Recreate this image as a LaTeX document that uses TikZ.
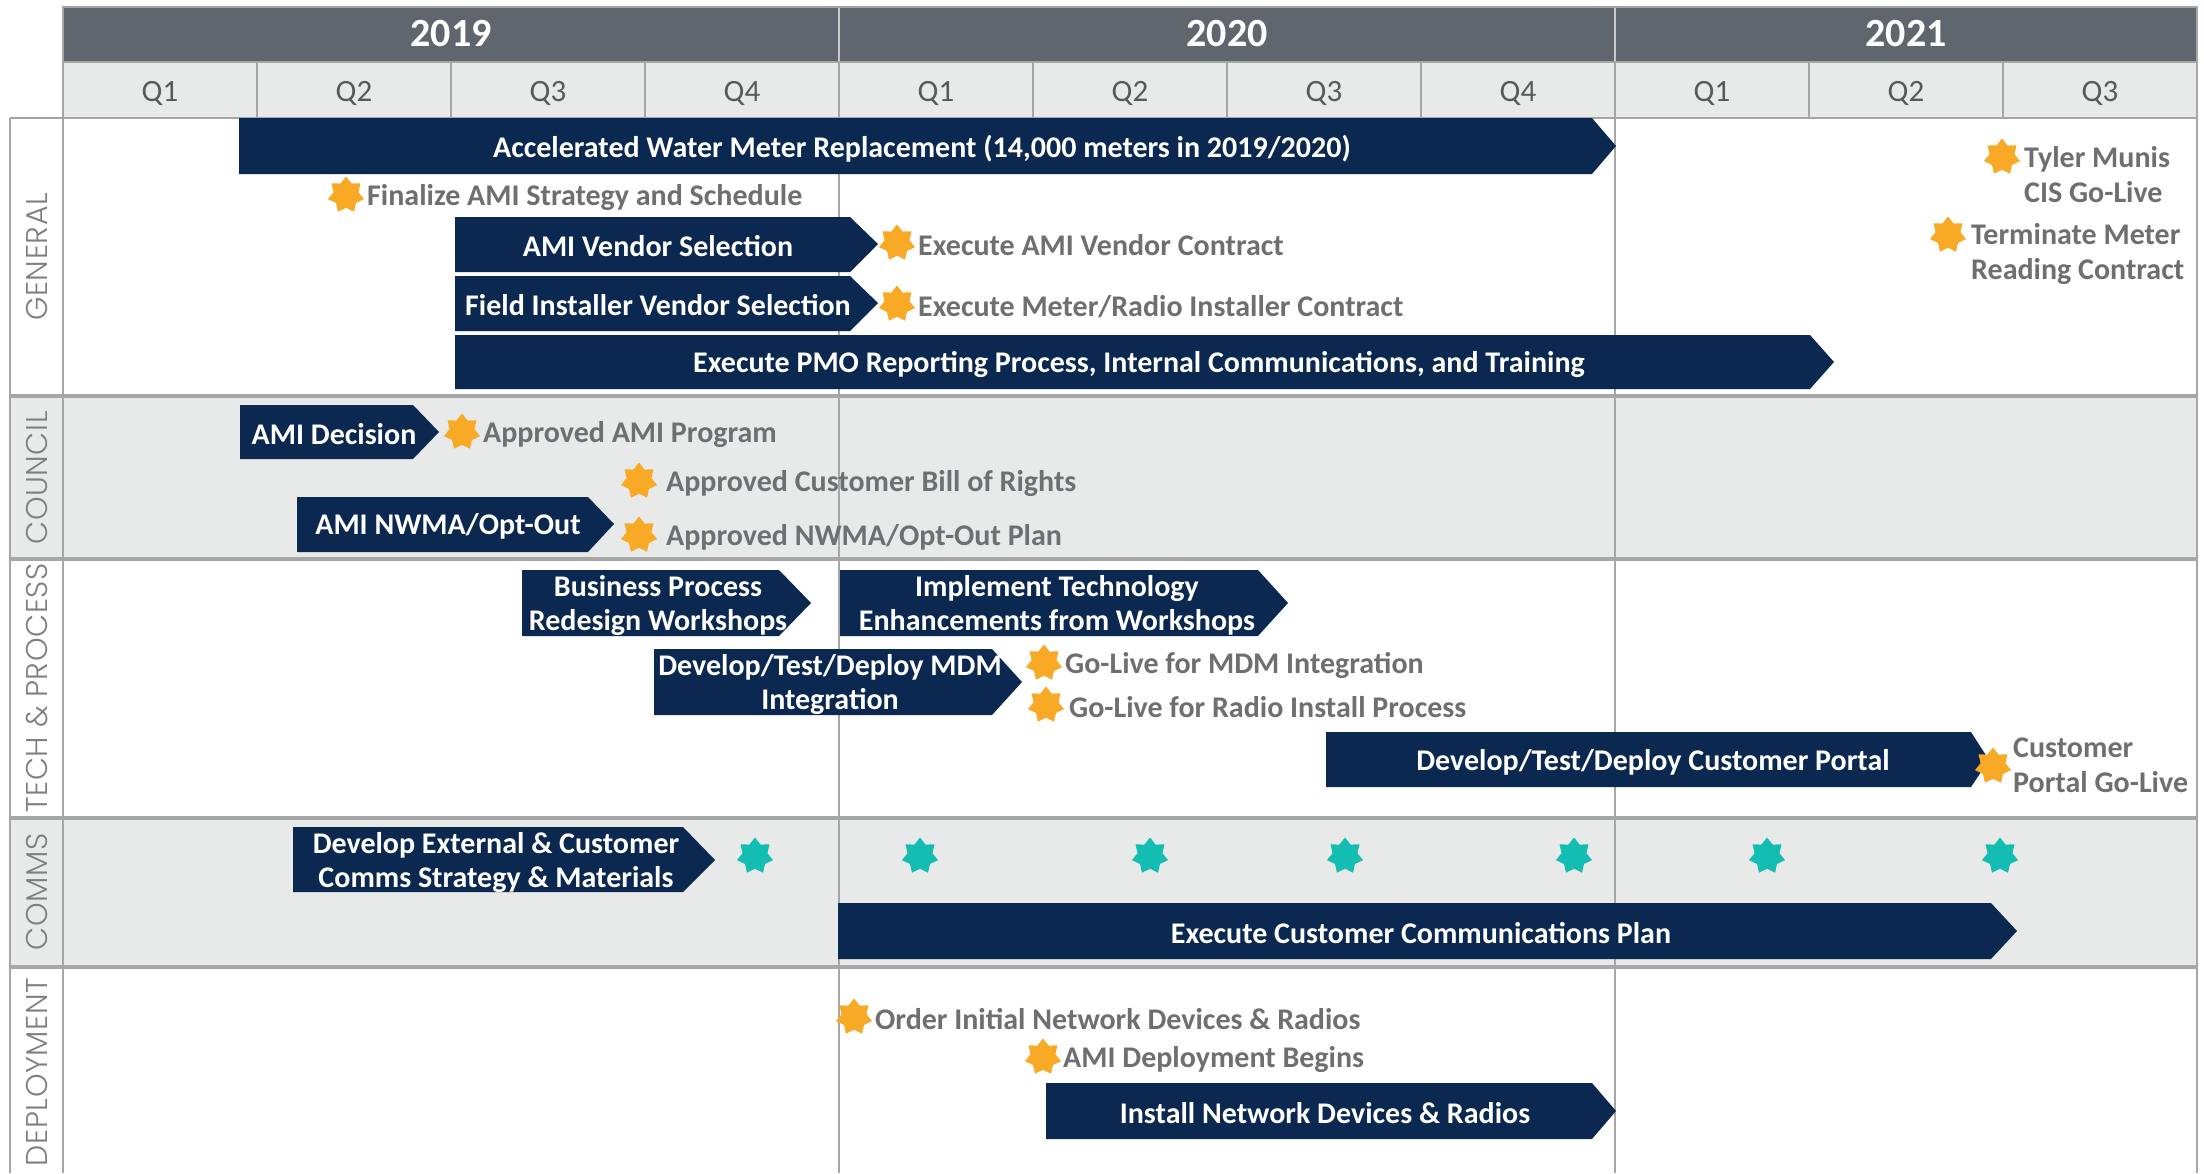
\documentclass[tikz,border=0pt]{standalone}
\usepackage{fontspec}
\setmainfont{Carlito}
\newfontfamily\lanefont{Poppins Light}[LetterSpace=2]
\usepackage{tikz}
\usetikzlibrary{shapes.geometric, positioning, calc}
\definecolor{Plan_Navy}{HTML}{0B2850}
\definecolor{Plan_Slate}{HTML}{5F666D}
\definecolor{Plan_Mist}{HTML}{E8E9E9}
\definecolor{Plan_Rule}{HTML}{A6A6A6}
\definecolor{Plan_Amber}{HTML}{F8A926}
\definecolor{Plan_Teal}{HTML}{14BDB1}
\definecolor{Plan_Ink}{HTML}{6E6F72}
\definecolor{Plan_Lane}{HTML}{7F7F7F}
\definecolor{Plan_Qtr}{HTML}{595959}

\tikzset{
    phase/.style={fill=Plan_Navy},
    rule/.style={draw=Plan_Rule, line width=2},
    lanerule/.style={draw=Plan_Rule, line width=4},
    yearlabel/.style={text=white, font=\fontsize{40}{44}\selectfont\bfseries, inner sep=0pt},
    qtrlabel/.style={text=Plan_Qtr, font=\fontsize{31}{34}\selectfont, inner sep=0pt},
    lanelabel/.style={text=Plan_Lane, font=\lanefont\fontsize{30}{34}\selectfont, rotate=90, inner sep=0pt},
    barlabel/.style={text=white, font=\fontsize{30}{34}\selectfont\bfseries, align=center, inner sep=0pt, yshift=-2.5pt},
    mslabel/.style={text=Plan_Ink, font=\fontsize{30}{35}\selectfont\bfseries, align=left, anchor=west, inner sep=0pt, yshift=-2.5pt},
    msstar/.style={star, star points=7, star point ratio=1.45, minimum size=37, inner sep=0pt, fill=Plan_Amber},
    commsstar/.style={msstar, fill=Plan_Teal}
}

\begin{document}
\begin{tikzpicture}[x=1pt, y=-1pt]

    \useasboundingbox (0,0) rectangle (2204,1173);
    \fill[white] (0,0) rectangle (2204,1173);

    % === Lane backgrounds (council and comms shaded) ===
    \fill[Plan_Mist] (10,396) rectangle (2197,559);
    \fill[Plan_Mist] (10,818) rectangle (2197,967);

    % === Header: years and quarters ===
    \fill[Plan_Slate] (63,7) rectangle (2197,62);
    \fill[Plan_Mist] (63,62) rectangle (2197,118);
    \draw[draw=Plan_Rule!60, line width=2] (839,7) -- (839,62);
    \draw[draw=Plan_Rule!60, line width=2] (1615,7) -- (1615,62);
    \foreach \k in {1,...,10} {
        \draw[rule] ({63+194*\k},62) -- ({63+194*\k},118);
    }
    \draw[rule] (63,7) rectangle (2197,118);
    \draw[rule] (63,62) -- (2197,62);
    \node[yearlabel] (y2019) at (451,34) {2019};
    \node[yearlabel] (y2020) at (1227,34) {2020};
    \node[yearlabel] (y2021) at (1906,34) {2021};
    \foreach \q [count=\i from 0] in {Q1,Q2,Q3,Q4,Q1,Q2,Q3,Q4,Q1,Q2,Q3} {
        \node[qtrlabel] (q\i) at ({160+194*\i},93) {\q};
    }

    % === Grid lines of the body ===
    \draw[rule] (839,118) -- (839,1173);
    \draw[rule] (1615,118) -- (1615,1173);
    \draw[rule] (10,118) -- (10,1173);
    \draw[rule] (63,118) -- (63,1173);
    \draw[rule] (2197,118) -- (2197,1173);
    \draw[rule] (10,118) -- (63,118);
    \draw[lanerule] (10,396) -- (2197,396);
    \draw[lanerule] (10,559) -- (2197,559);
    \draw[lanerule] (10,818) -- (2197,818);
    \draw[lanerule] (10,967) -- (2197,967);

    % === Lane names ===
    \node[lanelabel] (general) at (37,257) {GENERAL};
    \node[lanelabel] (council) at (37,478) {COUNCIL};
    \node[lanelabel] (tech) at (37,688) {TECH \& PROCESS};
    \node[lanelabel] (comms) at (37,892) {COMMS};
    \node[lanelabel] (deploy) at (37,1072) {DEPLOYMENT};

    % === General ===
    \fill[phase] (239,118) -- (1592,118) -- (1616,146) -- (1592,174) -- (239,174) -- cycle;
    \node[barlabel] (accel) at (922,146) {Accelerated Water Meter Replacement (14,000 meters in 2019/2020)};
    \fill[phase] (455,217) -- (850,217) -- (878,244) -- (850,272) -- (455,272) -- cycle;
    \node[barlabel] (amisel) at (658,244) {AMI Vendor Selection};
    \fill[phase] (455,276) -- (850,276) -- (878,303) -- (850,331) -- (455,331) -- cycle;
    \node[barlabel] (fieldsel) at (658,303) {Field Installer Vendor Selection};
    \fill[phase] (455,335) -- (1810,335) -- (1834,362) -- (1810,389) -- (455,389) -- cycle;
    \node[barlabel] (pmo) at (1139,362) {Execute PMO Reporting Process, Internal Communications, and Training};

    \node[msstar] (fin) at (346,195) {};
    \node[mslabel, right=6pt of fin] (fintxt) {Finalize AMI Strategy and Schedule};
    \node[msstar] (amik) at (897,243) {};
    \node[mslabel, right=6pt of amik] (amiktxt) {Execute AMI Vendor Contract};
    \node[msstar] (radk) at (897,304) {};
    \node[mslabel, right=6pt of radk] (radktxt) {Execute Meter/Radio Installer Contract};
    \node[msstar] (tyler) at (2002,157) {};
    \node[mslabel] (tylertxt) at (2024,172) {Tyler Munis\\CIS Go-Live};
    \node[msstar] (term) at (1948,235) {};
    \node[mslabel] (termtxt) at (1971,252) {Terminate Meter\\Reading Contract};

    % === Council ===
    \fill[phase] (240,405) -- (413,405) -- (439,432) -- (413,459) -- (240,459) -- cycle;
    \node[barlabel] (decision) at (334,432) {AMI Decision};
    \fill[phase] (297,497) -- (588,497) -- (614,524) -- (588,552) -- (297,552) -- cycle;
    \node[barlabel] (nwma) at (448,524) {AMI NWMA/Opt-Out};

    \node[msstar] (prog) at (462,432) {};
    \node[mslabel, right=6pt of prog] (progtxt) {Approved AMI Program};
    \node[msstar] (bill) at (639,481) {};
    \node[mslabel, right=12pt of bill] (billtxt) {Approved Customer Bill of Rights};
    \node[msstar] (nwmap) at (639,535) {};
    \node[mslabel, right=12pt of nwmap] (nwmaptxt) {Approved NWMA/Opt-Out Plan};

    % === Tech & Process ===
    \fill[phase] (522,570) -- (779,570) -- (811,603) -- (779,636) -- (522,636) -- cycle;
    \node[barlabel] (bpr) at (658,603) {Business Process\\Redesign Workshops};
    \fill[phase] (840,570) -- (1258,570) -- (1288,603) -- (1258,636) -- (840,636) -- cycle;
    \node[barlabel] (impl) at (1057,603) {Implement Technology\\Enhancements from Workshops};
    \fill[phase] (654,649) -- (992,649) -- (1022,682) -- (992,715) -- (654,715) -- cycle;
    \node[barlabel] (mdm) at (830,682) {Develop/Test/Deploy MDM\\Integration};
    \fill[phase] (1326,732) -- (1971,732) -- (1989,760) -- (1971,787) -- (1326,787) -- cycle;
    \node[barlabel] (portal) at (1653,760) {Develop/Test/Deploy Customer Portal};

    \node[msstar] (mdmgo) at (1044,663) {};
    \node[mslabel, right=6pt of mdmgo] (mdmgotxt) {Go-Live for MDM Integration};
    \node[msstar] (radiogo) at (1046,705) {};
    \node[mslabel, right=8pt of radiogo] (radiogotxt) {Go-Live for Radio Install Process};
    \node[msstar] (portalgo) at (1993,766) {};
    \node[mslabel] (portalgotxt) at (2013,763) {Customer\\Portal Go-Live};

    % === Comms ===
    \fill[phase] (293,827) -- (683,827) -- (715,860) -- (683,892) -- (293,892) -- cycle;
    \node[barlabel] (commsdev) at (496,860) {Develop External \& Customer\\Comms Strategy \& Materials};
    \fill[phase] (838,903) -- (1991,903) -- (2017,931) -- (1991,959) -- (838,959) -- cycle;
    \node[barlabel] (ccplan) at (1421,931) {Execute Customer Communications Plan};

    \foreach \x [count=\i] in {755,920,1150,1345,1574,1767,2000} {
        \node[commsstar] (drop\i) at (\x,856) {};
    }

    % === Deployment ===
    \node[msstar] (order) at (854,1017) {};
    \node[mslabel, right=6pt of order] (ordertxt) {Order Initial Network Devices \& Radios};
    \node[msstar] (begin) at (1043,1057) {};
    \node[mslabel, right=5pt of begin] (begintxt) {AMI Deployment Begins};
    \fill[phase] (1046,1083) -- (1592,1083) -- (1616,1111) -- (1592,1139) -- (1046,1139) -- cycle;
    \node[barlabel] (install) at (1325,1111) {Install Network Devices \& Radios};

\end{tikzpicture}
\end{document}
